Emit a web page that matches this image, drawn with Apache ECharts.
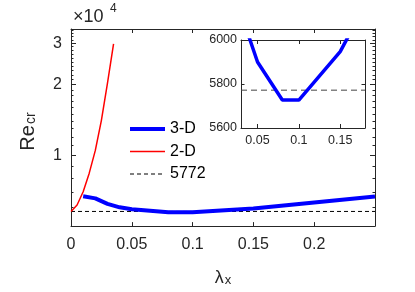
<!DOCTYPE html>
<html>
<head>
<meta charset="utf-8">
<script src="https://cdn.jsdelivr.net/npm/echarts@6/dist/echarts.min.js"></script>
<style>
html,body{margin:0;padding:0;background:#fff;}
#c{width:415px;height:292px;}
</style>
</head>
<body>
<div id="c"></div>
<script>
// ---- data ----
const x3D = [0.01, 0.02, 0.03, 0.04, 0.05, 0.08, 0.10, 0.15, 0.20, 0.25];
const re3D = [6700, 6560, 6220, 6010, 5900, 5727, 5727, 5947, 6300, 6680];
const x2D = [0, 0.005, 0.01, 0.015, 0.02, 0.025, 0.03, 0.035];
const re2D = [5772, 6150, 7000, 8400, 10500, 14100, 20300, 29800];
const reRef = 5772;
const xTickVals = [0, 0.05, 0.1, 0.15, 0.2];
const yMajorTicks = [10000, 20000, 30000];
const yMinorTicks = [5000, 6000, 7000, 8000, 9000, 11000, 12000, 13000, 14000, 15000, 16000, 17000, 18000, 19000,
  21000, 22000, 23000, 24000, 25000, 26000, 27000, 28000, 29000, 31000, 32000, 33000, 34000];
const insetXTicks = [0.05, 0.1, 0.15];
const insetYTicks = [5600, 5800, 6000];

const FONT = 'Liberation Sans, Arial, Helvetica, sans-serif';
const AX = '#262626';

function pairs(xs, ys) { return xs.map((x, i) => [x, ys[i]]); }

const chart = echarts.init(document.getElementById('c'), null, {renderer: 'canvas'});

function xAx(grid, min, max, pos, ticks, showLabels, fs, margin, extra) {
  return Object.assign({
    gridIndex: grid, type: 'value', min: min, max: max, position: pos,
    axisLine: {show: true, onZero: false, lineStyle: {color: AX, width: 1}},
    axisTick: {show: true, inside: true, length: 4, customValues: ticks, lineStyle: {color: AX}},
    axisLabel: {show: showLabels, customValues: ticks, fontSize: fs, margin: margin, color: AX, fontFamily: FONT,
      formatter: v => String(+v.toFixed(4))},
    splitLine: {show: false}
  }, extra || {});
}
function yLog(pos, ticks, len, showLabels, showLine, extra) {
  return Object.assign({
    gridIndex: 0, type: 'log', logBase: 10, min: 5000, max: 34500, position: pos,
    axisLine: {show: showLine, lineStyle: {color: AX, width: 1}},
    axisTick: {show: true, inside: true, length: len, customValues: ticks, lineStyle: {color: AX}},
    axisLabel: {show: showLabels, customValues: yMajorTicks, fontSize: 16, margin: 9, color: AX, fontFamily: FONT,
      formatter: v => String(Math.round(v / 10000))},
    splitLine: {show: false}, minorTick: {show: false}
  }, extra || {});
}

const dashPath = 'path://M0,0h4v1h-4z M7,0h4v1h-4z M14,0h4v1h-4z M21,0h4v1h-4z M28,0h4v1h-4z M35,0h0v1h0z';

const option = {
  animation: false,
  backgroundColor: '#fff',
  grid: [
    {left: 71, top: 29, width: 304, height: 199},
    {left: 241, top: 40, width: 124, height: 88, show: true, backgroundColor: '#fff', borderWidth: 0}
  ],
  xAxis: [
    xAx(0, 0, 0.25, 'bottom', xTickVals, true, 16, 10, {
      name: '{l|λ}{s|x}', nameLocation: 'middle', nameGap: 34,
      nameTextStyle: {fontFamily: FONT, color: AX, rich: {
        l: {fontSize: 18, lineHeight: 18, verticalAlign: 'top', fontFamily: FONT, color: AX},
        s: {fontSize: 13, lineHeight: 13, padding: [17, 0, 0, 1], verticalAlign: 'bottom', fontFamily: FONT, color: AX}
      }}
    }),
    xAx(0, 0, 0.25, 'top', xTickVals, false, 16, 10),
    xAx(1, 0.03, 0.18, 'bottom', insetXTicks, true, 12.5, 6),
    xAx(1, 0.03, 0.18, 'top', insetXTicks, false, 12.5, 6)
  ],
  yAxis: [
    yLog('left', yMinorTicks, 2.5, true, true, {
      name: '{l|Re}{s|cr}', nameLocation: 'middle', nameGap: 33, nameRotate: 90,
      nameTextStyle: {fontFamily: FONT, color: AX, padding: [0, 8, 0, 0], rich: {
        l: {fontSize: 20, lineHeight: 20, verticalAlign: 'top', fontFamily: FONT, color: AX},
        s: {fontSize: 14, lineHeight: 14, padding: [15, 0, 0, 1], verticalAlign: 'bottom', fontFamily: FONT, color: AX}
      }}
    }),
    yLog('left', yMajorTicks, 5, false, false),
    yLog('right', yMinorTicks, 2.5, false, true),
    yLog('right', yMajorTicks, 5, false, false),
    {
      gridIndex: 1, type: 'value', min: 5600, max: 6000, position: 'left',
      axisLine: {show: true, lineStyle: {color: AX}},
      axisTick: {show: true, inside: true, length: 3.5, customValues: insetYTicks, lineStyle: {color: AX}},
      axisLabel: {customValues: insetYTicks, fontSize: 12.5, margin: 4, color: AX, fontFamily: FONT,
        formatter: v => String(v)},
      splitLine: {show: false}
    },
    {
      gridIndex: 1, type: 'value', min: 5600, max: 6000, position: 'right',
      axisLine: {show: true, lineStyle: {color: AX}},
      axisTick: {show: true, inside: true, length: 3.5, customValues: insetYTicks, lineStyle: {color: AX}},
      axisLabel: {show: false},
      splitLine: {show: false}
    }
  ],
  legend: {
    data: [
      {name: '3-D', icon: 'path://M0,0h35v4h-35z', itemStyle: {color: '#0000ff'}},
      {name: '2-D', icon: 'path://M0,0h35v1.5h-35z', itemStyle: {color: '#ff0000'}},
      {name: '5772', icon: dashPath, itemStyle: {color: '#000'}}
    ],
    orient: 'vertical', left: 125, top: 116,
    itemWidth: 35, itemHeight: 14, itemGap: 6.5, padding: 5,
    textStyle: {fontSize: 16, lineHeight: 16, color: '#000', fontFamily: FONT}
  },
  graphic: [
    {type: 'text', left: 73, top: 8, style: {text: '×10', fontSize: 18, fill: AX, fontFamily: FONT}},
    {type: 'text', left: 110, top: 3, style: {text: '4', fontSize: 12, fill: AX, fontFamily: FONT}}
  ],
  series: [
    {name: '5772', type: 'line', xAxisIndex: 0, yAxisIndex: 0, symbol: 'none',
      data: [[0, reRef], [0.25, reRef]], lineStyle: {color: '#000', width: 1, type: [4, 3]}, itemStyle: {color: '#000'}},
    {name: '2-D', type: 'line', xAxisIndex: 0, yAxisIndex: 0, symbol: 'none',
      data: pairs(x2D, re2D), lineStyle: {color: '#ff0000', width: 1.5}, itemStyle: {color: '#ff0000'}},
    {name: '3-D', type: 'line', xAxisIndex: 0, yAxisIndex: 0, symbol: 'none',
      data: pairs(x3D, re3D), lineStyle: {color: '#0000ff', width: 4}, itemStyle: {color: '#0000ff'}},
    {name: 'ref-inset', type: 'line', xAxisIndex: 2, yAxisIndex: 4, symbol: 'none',
      data: [[0.03, reRef], [0.18, reRef]], lineStyle: {color: '#444', width: 1, type: [6, 4]}},
    {name: '3-D-inset', type: 'line', xAxisIndex: 2, yAxisIndex: 4, symbol: 'none', clip: true,
      data: pairs(x3D, re3D), lineStyle: {color: '#0000ff', width: 3.5}}
  ]
};
chart.setOption(option);
</script>
</body>
</html>
